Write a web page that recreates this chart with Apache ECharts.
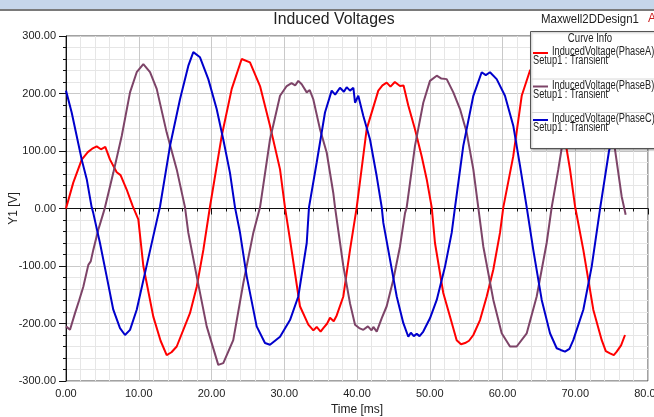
<!DOCTYPE html>
<html>
<head>
<meta charset="utf-8">
<script src="https://cdn.jsdelivr.net/npm/echarts@6/dist/echarts.min.js"></script>
<style>
  html, body { margin: 0; padding: 0; background: #fff; }
  #chart { width: 654px; height: 417px; }
</style>
</head>
<body>
<div id="chart"></div>
<script>
const FONT = "'Liberation Sans', Arial, sans-serif"

const chartTitle = 'Induced Voltages'
const designName = 'Maxwell2DDesign1'
const seriesNames = ['InducedVoltage(PhaseA)', 'InducedVoltage(PhaseB)', 'InducedVoltage(PhaseC)']
const setupLabel = 'Setup1 : Transient'
const seriesColors = ['#ff0000', '#7d4468', '#0000cc']

// [time ms, voltage V]
const phaseA = [
  [0, 0], [1.0, 45], [2.16, 85], [3.0, 98], [3.6, 104], [4.22, 108], [4.8, 103], [5.4, 107],
  [6.05, 85], [6.97, 63], [7.5, 58], [8.34, 33], [9.17, 4], [9.94, -19], [10.63, -100],
  [12.0, -188], [13.0, -230], [13.84, -255], [14.5, -250], [15.22, -240], [17.04, -182],
  [17.97, -136], [18.88, -72], [19.79, 3], [21.4, 126], [22.78, 208], [24.15, 260],
  [25.29, 254], [26.67, 213], [28.04, 144], [29.42, 68], [30.1, 2], [30.79, -54],
  [32.16, -170], [33.31, -202], [34.0, -212], [34.46, -206], [35.0, -214], [35.37, -208],
  [35.9, -200], [36.29, -190], [36.8, -196], [37.21, -186], [38.12, -153], [39.04, -72],
  [39.96, 2], [41.33, 138], [42.93, 205], [43.5, 214], [44.08, 219], [44.6, 212],
  [45.2, 220], [45.91, 213], [46.4, 214], [47.05, 179], [47.97, 138], [48.89, 91],
  [49.58, 51], [50.27, 2], [50.72, -60], [51.86, -147], [52.78, -188], [53.7, -229],
  [54.3, -236], [54.85, -234], [55.4, -230], [55.99, -220], [56.91, -194], [57.83, -153],
  [58.74, -106], [59.66, -42], [60.11, 2], [61.48, 91], [62.64, 196], [63.78, 240],
  [64.6, 250], [65.84, 235], [66.94, 180], [67.9, 130], [68.82, 103], [69.28, 68],
  [69.97, 4], [71.11, -72], [72.48, -176], [73.64, -229], [74.2, -248], [74.78, -252],
  [75.3, -255], [75.7, -249], [76.3, -238], [76.84, -220]
]

const phaseB = [
  [0, -205], [0.55, -211], [1.24, -182], [1.8, -160], [2.38, -136], [3.07, -98],
  [3.4, -92], [3.75, -72], [4.44, -37], [5.13, -8], [5.36, 2], [6.5, 62], [7.66, 126],
  [8.8, 202], [9.72, 237], [10.63, 251], [11.55, 237], [12.47, 208], [13.84, 132],
  [15.22, 68], [16.36, 2], [16.81, -42], [17.97, -118], [19.34, -205], [20.93, -272],
  [21.62, -269], [22.99, -229], [24.37, -130], [25.75, -42], [26.67, 2], [28.04, 120],
  [29.42, 196], [30.34, 213], [31.0, 218], [31.5, 214], [31.93, 222], [32.4, 216],
  [33.09, 202], [33.5, 206], [33.99, 190], [34.91, 138], [35.84, 97], [36.74, 27],
  [36.98, 2], [38.12, -100], [39.04, -165], [39.73, -202], [40.3, -208], [40.87, -211],
  [41.5, -205], [42.0, -212], [42.25, -206], [42.71, -214], [43.39, -191], [44.08, -170],
  [44.99, -124], [45.91, -66], [46.6, -8], [46.83, 2], [47.97, 109], [49.11, 184],
  [50.03, 222], [50.96, 231], [51.6, 226], [52.33, 225], [53.24, 202], [54.16, 173],
  [55.08, 132], [55.99, 68], [56.67, 2], [57.36, -66], [58.74, -159], [59.89, -217],
  [61.03, -240], [61.95, -240], [63.33, -217], [64.7, -153], [66.07, -60], [66.76, 2],
  [67.67, 68], [68.59, 140], [69.55, 200], [70.65, 232], [72.03, 238], [73.4, 215],
  [74.5, 170], [75.46, 103], [76.38, 21], [76.93, -11]
]

const phaseC = [
  [0, 205], [0.78, 167], [1.47, 126], [2.16, 85], [2.85, 51], [3.53, 2], [3.75, -8],
  [4.67, -60], [5.59, -118], [6.5, -176], [7.42, -208], [8.11, -220], [8.8, -211],
  [9.72, -176], [10.86, -112], [12.0, -48], [12.92, 3], [14.3, 109], [15.67, 190],
  [16.81, 248], [17.5, 272], [18.42, 263], [19.56, 225], [20.71, 173], [21.62, 120],
  [22.54, 62], [23.23, 2], [23.92, -42], [24.84, -118], [26.21, -205], [27.35, -234],
  [28.04, -237], [29.42, -223], [30.79, -194], [31.93, -153], [33.09, -60], [33.4, 2],
  [34.46, 80], [35.6, 167], [36.52, 205], [37.0, 198], [37.66, 210], [38.2, 203],
  [38.58, 211], [39.04, 205], [39.5, 210], [39.73, 184], [40.18, 196], [40.87, 161],
  [41.79, 120], [42.71, 56], [43.4, 2], [43.62, -25], [44.54, -89], [45.46, -153],
  [46.36, -199], [47.05, -223], [47.4, -216], [47.8, -222], [48.21, -218], [48.6, -222],
  [49.11, -214], [50.03, -191], [50.96, -159], [52.1, -101], [53.02, -42], [53.47, 2],
  [54.61, 109], [55.99, 196], [57.14, 237], [57.7, 232], [58.28, 237], [59.2, 225],
  [60.34, 196], [61.48, 144], [62.41, 74], [63.33, 2], [64.23, -72], [65.39, -159],
  [66.53, -217], [67.45, -243], [68.0, -246], [68.59, -249], [69.2, -244], [69.73, -229],
  [71.11, -176], [72.26, -101], [73.44, 2], [74.64, 100], [75.46, 140], [76.43, 185],
  [76.98, 200]
]

const xTicks = { min: 0, max: 80, step: 10 }
const yTicks = { min: -300, max: 300, step: 100 }

const chart = echarts.init(document.getElementById('chart'), null, { renderer: 'canvas' })

const lineSeries = [phaseA, phaseB, phaseC].map((d, i) => ({
  name: seriesNames[i],
  type: 'line',
  data: d,
  showSymbol: false,
  smooth: false,
  animation: false,
  lineStyle: { color: seriesColors[i], width: 2 },
  itemStyle: { color: seriesColors[i] },
  z: 2
}))

// narrow-looking text: Arial metrics squeezed horizontally
function label (text, x, y, size, sx, align) {
  return {
    type: 'text', x: x, y: y, scaleX: sx, z: 101,
    style: { text: text, fill: '#222', font: size + 'px ' + FONT, textAlign: align || 'left', textVerticalAlign: 'middle' }
  }
}

// legend box ("Curve Info") drawn over the plot
const legendItems = []
seriesNames.forEach((n, i) => {
  const y = 53 + i * 33.5
  legendItems.push({
    type: 'line', shape: { x1: 533, y1: y, x2: 548, y2: y },
    style: { stroke: seriesColors[i], lineWidth: 2 }, z: 101
  })
  legendItems.push(label(n, 552, y - 1, 12, 0.77))
  legendItems.push(label(setupLabel, 533, y + 8, 12, 0.77))
  if (i > 0) {
    legendItems.push({
      type: 'line', shape: { x1: 531, y1: y - 7.5, x2: 654, y2: y - 7.5 },
      style: { stroke: '#d8d8d8', lineWidth: 1 }, z: 101
    })
  }
})

chart.setOption({
  animation: false,
  textStyle: { fontFamily: FONT },
  grid: {
    left: 66, right: 6, top: 36, bottom: 36,
    containLabel: false, outerBoundsMode: 'none',
    show: true, borderColor: '#444', borderWidth: 1, backgroundColor: '#fff'
  },
  xAxis: {
    type: 'value',
    min: xTicks.min, max: xTicks.max, interval: xTicks.step,
    name: 'Time [ms]', nameLocation: 'middle', nameGap: 23, nameMoveOverlap: false,
    nameTextStyle: { color: '#222', fontSize: 12, fontFamily: FONT },
    axisLine: { lineStyle: { color: '#111' } },
    axisTick: { show: true, length: 6, lineStyle: { color: '#111' } },
    minorTick: { show: true, splitNumber: 5, length: 3, lineStyle: { color: '#111' } },
    axisLabel: { color: '#222', fontSize: 11, margin: 7, formatter: v => v.toFixed(2) },
    splitLine: { show: true, lineStyle: { color: '#c9c9c9' } },
    minorSplitLine: { show: true, lineStyle: { color: '#e6e6e6' } }
  },
  yAxis: {
    type: 'value',
    min: yTicks.min, max: yTicks.max, interval: yTicks.step,
    name: 'Y1 [V]', nameLocation: 'middle', nameGap: 46, nameRotate: 90, nameMoveOverlap: false,
    nameTextStyle: { color: '#222', fontSize: 12, fontFamily: FONT },
    axisLine: { show: true, lineStyle: { color: '#111' } },
    axisTick: { show: true, length: 7, lineStyle: { color: '#111' } },
    minorTick: { show: true, splitNumber: 5, length: 3, lineStyle: { color: '#111' } },
    axisLabel: { color: '#222', fontSize: 11, margin: 10, formatter: v => v.toFixed(2) },
    splitLine: { show: true, lineStyle: { color: '#c9c9c9' } },
    minorSplitLine: { show: true, lineStyle: { color: '#e6e6e6' } }
  },
  series: lineSeries,
  graphic: [
    // window strip at the very top
    { type: 'rect', shape: { x: 0, y: 0, width: 654, height: 9 }, style: { fill: '#c6d6ea' }, z: 100 },
    { type: 'line', shape: { x1: 0, y1: 10, x2: 654, y2: 10 }, style: { stroke: '#7a7a7a', lineWidth: 2 }, z: 100 },
    label(chartTitle, 334, 19, 17, 0.93, 'center'),
    label(designName, 541, 19, 13, 0.88),
    {
      type: 'text', x: 648, y: 19, z: 100,
      style: { text: 'A', fill: '#cc2222', font: '12px ' + FONT, textVerticalAlign: 'middle' }
    },
    {
      type: 'rect', shape: { x: 530.5, y: 31.5, width: 130, height: 117 },
      style: { fill: '#fff', stroke: '#555', lineWidth: 1, shadowBlur: 2, shadowColor: 'rgba(0,0,0,0.3)', shadowOffsetX: 1, shadowOffsetY: 1 }, z: 100
    },
    label('Curve Info', 590, 38.5, 12, 0.8, 'center'),
    ...legendItems
  ]
})
</script>
</body>
</html>
